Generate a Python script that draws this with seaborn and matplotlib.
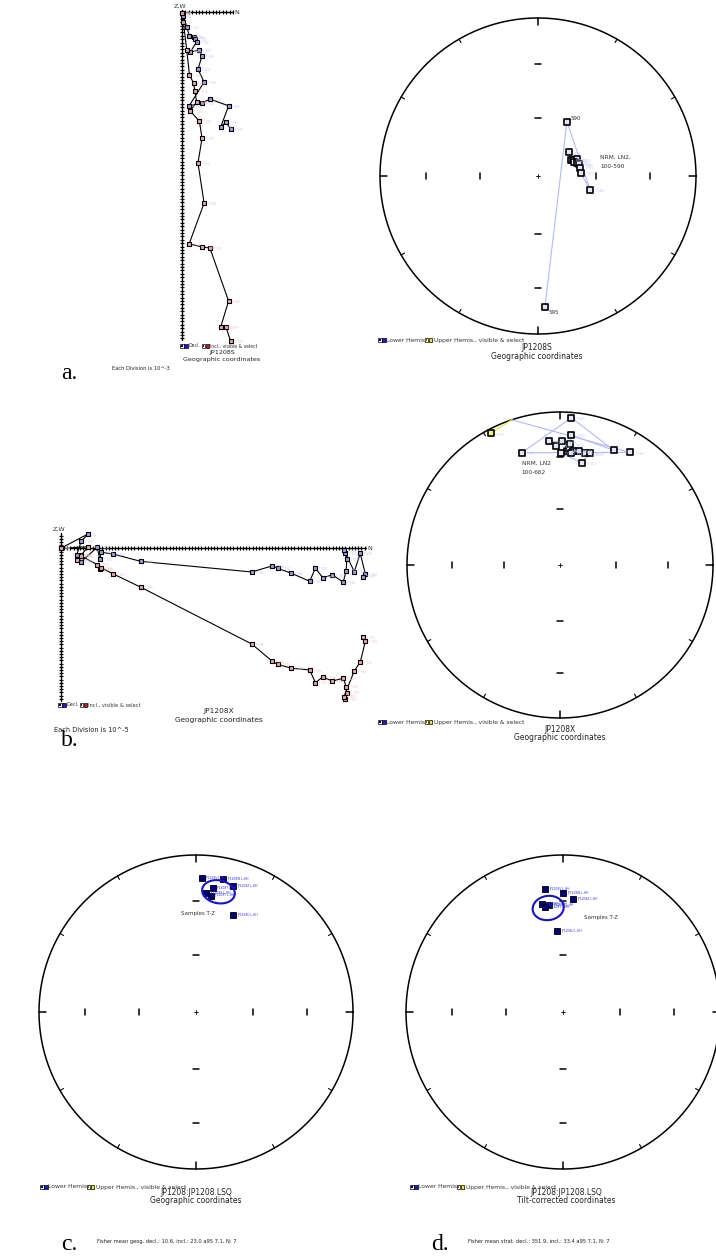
import numpy as np
import matplotlib
matplotlib.use("Agg")
import matplotlib.pyplot as plt
from matplotlib.patches import Rectangle
import seaborn as sns

# ---------------- data ----------------
# JP1208S orthogonal projection, in divisions (1 division = 1e-3)
a_steps = ["NRM", "LN2", "T 100", "T 150", "T 200", "T 250", "T 300", "T 350", "T 400", "T 430",
           "T 460", "T 490", "T 510", "T 530", "T 550", "T 565", "T 580", "T 590", "T 595"]
a_north = [0.1, 0.4, 1.4, 2.2, 3.4, 3.8, 4.3, 2.4, 5.1, 5.9, 4.7, 6.5, 2.1, 5.9, 8.2, 13.7, 11.4, 12.9, 14.3]
a_west_down = [0.3, 1.2, 4.4, 7.1, 7.4, 7.9, 8.8, 11.8, 11.2, 12.9, 16.8, 20.6, 27.6, 26.8, 25.6, 27.6, 33.8, 32.4, 34.4]
a_z_down = [0.3, 2.9, 11.2, 18.5, 20.9, 23.2, 26.5, 29.1, 32.1, 37.1, 44.4, 56.2, 68.2, 69.1, 69.4, 85.0, 92.6, 92.6, 96.8]

# JP1208S equal-area directions
a_net_steps = ["NRM", "LN2", "T 100", "T 200", "T 300", "T 400", "T 460", "T 510", "T 550", "T 580", "590", "595"]
a_net_dec = [52, 64, 65, 67, 69, 72, 74, 79, 86, 105, 28, 177]
a_net_inc = [70, 71, 70, 68, 70, 69, 68, 68, 68, 62, 58, 18]

# JP1208X orthogonal projection, in divisions (1 division = 1e-5)
b_steps = ["NRM", "LN2", "T 100", "T 150", "T 200", "T 250", "T 300", "T 350", "T 400", "T 450",
           "T 500", "T 530", "T 560", "T 580", "T 600", "T 610", "T 620", "T 630", "T 640", "T 645",
           "T 650", "T 655", "T 660", "T 662", "T 665", "T 668", "T 670"]
b_north = [0, 8.6, 6.4, 5.0, 6.4, 11.4, 12.2, 12.7, 16.4, 25.1, 59.7, 66.1, 67.8, 72.1, 77.8, 79.6,
           81.9, 84.9, 88.3, 89.2, 89.4, 88.9, 88.5, 91.75, 93.6, 95.2, 94.6]
b_west_down = [0, -4.5, -2.2, 2.1, 4.2, -0.3, 3.4, 1.25, 1.8, 4.1, 7.4, 5.5, 6.25, 7.8, 10.3, 6.2,
               9.2, 8.3, 10.6, 7.0, 3.4, 1.6, 0.5, 7.3, 1.6, 8.0, 8.9]
b_z_down = [0, -0.5, 2.1, 3.7, 2.4, 5.1, 6.6, 6.1, 8.0, 12.2, 29.9, 35.3, 36.25, 37.5, 38.0, 42.0,
            40.2, 41.5, 40.6, 43.25, 45.1, 47.2, 46.4, 38.3, 35.6, 29.1, 27.8]

# JP1208X equal-area directions (negative inclination = upper hemisphere)
b_net_steps = ["NRM", "LN2", "T 100", "T 150", "T 200", "T 250", "T 300", "T 350", "T 400", "T 450",
               "T 500", "T 530", "T 560", "T 580", "T 600", "T 620", "T 640", "T 662", "T 670"]
b_net_dec = [3.4, 4.6, 6.6, 5.5, 9.3, 12.6, 15.0, 12.0, 0.4, 358.1, 355.1, 0.9, 4.7, 5.0, 25.2, 4.4, 341.2, 32.0, 332.2]
b_net_inc = [26.1, 25.1, 25.7, 27.5, 25.3, 26.1, 25.4, 32.2, 27.5, 23.2, 20.0, 20.3, 21.9, 15.8, 18.3, 3.9, 23.5, 14.3, -3.1]

# Site JP1208 sample means (T-Z)
site_samples = ["JP1208V L-HH", "JP1208W L-HH", "JP1208Z L-HH", "JP1208T L-HH",
                "JP1208X L-HH", "JP1208Y L-HH", "JP1208U L-HH"]
geo_dec = [2.4, 11.6, 16.5, 7.7, 4.8, 7.2, 21.0]
geo_inc = [15.9, 14.6, 17.4, 21.6, 25.1, 26.3, 34.2]
strat_dec = [351.7, 0.0, 5.1, 352.5, 349.0, 350.3, 355.8]
strat_inc = [21.9, 25.2, 28.6, 31.8, 30.6, 32.7, 47.1]
geo_mean = (10.6, 23.0, 7.1, 7)
strat_mean = (351.9, 33.4, 7.1, 7)

# ---------------- figure helpers ----------------
sns.set_theme(style="white")
plt.rcParams["font.family"] = ["DejaVu Sans"]

W, H = 716, 1257
fig = plt.figure(figsize=(W / 100, H / 100), dpi=100)
fig.patch.set_facecolor("white")

DEC_FACE = "#9c9cdc"
INC_FACE = "#e8a6a6"
NET_LINE = "#b4b8ff"
TXT = "#222222"


def px_axes(x0, y0, w, h):
    ax = fig.add_axes([x0 / W, 1 - (y0 + h) / H, w / W, h / H])
    ax.set_axis_off()
    return ax


def ftext(x, y, s, size=4.5, ha="left", va="center", color=TXT, **kw):
    fig.text(x / W, 1 - y / H, s, fontsize=size, ha=ha, va=va, color=color, **kw)


def fsquare(x, y, side, face, edge="black", lw=0.5):
    fig.add_artist(Rectangle((x / W, 1 - (y + side / 2) / H), side / W, side / H,
                             transform=fig.transFigure, facecolor=face,
                             edgecolor=edge, linewidth=lw))


def icon_pair(x, y, inner, fill, side=3.6):
    fsquare(x, y, side, "white")
    fsquare(x + 1.0, y, side - 2.0, inner, edge=inner, lw=0)
    fsquare(x + side + 0.6, y, side, fill)


def zij_legend(x, y, size):
    icon_pair(x, y, "#000060", "#1a1ad0")
    ftext(x + 8.5, y, "Decl.", size=size, color="#333333")
    icon_pair(x + 21.5, y, "#600000", "#d01a1a")
    ftext(x + 30, y, "Incl., visible & select", size=size, color="#333333")


def hemis_legend(x, y, size=4.3):
    icon_pair(x, y, "#000060", "#1a1ad0")
    ftext(x + 8.5, y, "Lower Hemis", size=size, color="#333333")
    icon_pair(x + 46.5, y, "#707000", "#e8e830")
    ftext(x + 56, y, "Upper Hemis., visible & select", size=size, color="#333333")


def orthogonal_plot(box, origin, div, north, west_down, z_down, steps, h_len, v_up, v_len):
    x0, y0, w, h = box
    ox, oy = origin
    ax = px_axes(x0, y0, w, h)
    ax.plot([0, h_len], [0, 0], color="black", lw=1.0, zorder=1)
    ax.plot([0, 0], [v_up, -v_len], color="black", lw=1.0, zorder=1)
    tk = 0.65
    ax.vlines(np.arange(1, int(h_len) + 1), -tk, tk, color="black", lw=0.85, zorder=1)
    ax.hlines(np.arange(-int(v_len), int(v_up) + 1), -tk, tk, color="black", lw=0.85, zorder=1)
    n = np.asarray(north, float)
    wd = -np.asarray(west_down, float)
    zd = -np.asarray(z_down, float)
    ax.plot(n, wd, color="black", lw=0.8, zorder=2)
    ax.plot(n, zd, color="black", lw=0.8, zorder=2)
    sns.scatterplot(x=n, y=wd, marker="s", s=11, color=DEC_FACE, edgecolor="black",
                    linewidth=0.8, ax=ax, zorder=3, legend=False)
    sns.scatterplot(x=n, y=zd, marker="s", s=11, color=INC_FACE, edgecolor="black",
                    linewidth=0.8, ax=ax, zorder=3, legend=False)
    for xi, yi, yj, s in zip(n, wd, zd, steps):
        ax.annotate(s, (xi, yi), xytext=(2.8, -0.5), textcoords="offset points",
                    fontsize=2.0, color="#c4c4ee", va="center")
        ax.annotate(s, (xi, yj), xytext=(2.8, -0.5), textcoords="offset points",
                    fontsize=2.0, color="#f0c0c0", va="center")
    ax.set_xlim((x0 - ox) / div, (x0 + w - ox) / div)
    ax.set_ylim(-(y0 + h - oy) / div, (oy - y0) / div)
    ax.text(-0.6, v_up + 0.4, "Z,W", fontsize=4.6, ha="center", va="bottom", color="#333333")
    ax.text(h_len + 0.4, 0, "N", fontsize=4.6, ha="left", va="center", color="#333333")
    return ax


def to_xy(dec, inc):
    d = np.radians(np.asarray(dec, float))
    i = np.radians(np.abs(np.asarray(inc, float)))
    r = np.sqrt(2) * np.sin((np.pi / 2 - i) / 2)
    return r * np.sin(d), r * np.cos(d)


def to_vec(dec, inc):
    d, i = np.radians(dec), np.radians(inc)
    return np.array([np.cos(i) * np.cos(d), np.cos(i) * np.sin(d), np.sin(i)])


def from_vec(v):
    v = v / np.linalg.norm(v)
    return np.degrees(np.arctan2(v[1], v[0])), np.degrees(np.arcsin(v[2]))


def net(center, R):
    cx, cy = center
    pad = 1.12
    ax = px_axes(cx - R * pad, cy - R * pad, 2 * R * pad, 2 * R * pad)
    t = np.linspace(0, 2 * np.pi, 721)
    ax.plot(np.cos(t), np.sin(t), color="black", lw=1.1)
    for az in range(0, 360, 30):
        a = np.radians(az)
        major = az % 90 == 0
        r0, r1 = (0.955, 1.0) if major else (0.975, 1.0)
        ax.plot([r0 * np.sin(a), r1 * np.sin(a)], [r0 * np.cos(a), r1 * np.cos(a)],
                color="black", lw=1.1 if major else 0.8)
    rr = to_xy([0, 0], [60, 30])[1]
    d = 0.021
    for r in rr:
        for sg in (1, -1):
            ax.plot([-d, d], [sg * r, sg * r], color="black", lw=1.1)
            ax.plot([sg * r, sg * r], [-d, d], color="black", lw=1.1)
    c = 0.012
    ax.plot([-c, c], [0, 0], color="black", lw=0.6)
    ax.plot([0, 0], [-c, c], color="black", lw=0.6)
    ax.set_xlim(-pad, pad)
    ax.set_ylim(-pad, pad)
    return ax


def demag_path(ax, dec, inc):
    for k in range(len(dec) - 1):
        d0, i0, d1, i1 = dec[k], inc[k], dec[k + 1], inc[k + 1]
        if (i0 >= 0) == (i1 >= 0):
            x, y = to_xy([d0, d1], [i0, i1])
            ax.plot(x, y, color=NET_LINE if i0 >= 0 else "#e6e640", lw=0.8, zorder=2)
        else:
            v0, v1 = to_vec(d0, i0), to_vec(d1, i1)
            t = v0[2] / (v0[2] - v1[2])
            de, ie = from_vec(v0 + t * (v1 - v0))
            x, y = to_xy([d0, de], [i0, 0])
            ax.plot(x, y, color=NET_LINE if i0 >= 0 else "#e6e640", lw=0.8, zorder=2)
            x, y = to_xy([de, d1], [0, i1])
            ax.plot(x, y, color=NET_LINE if i1 >= 0 else "#e6e640", lw=0.8, zorder=2)


def net_points(ax, dec, inc, steps, dark=()):
    dec = np.asarray(dec, float)
    inc = np.asarray(inc, float)
    x, y = to_xy(dec, inc)
    lower = inc >= 0
    sns.scatterplot(x=x[lower], y=y[lower], marker="s", s=17, color="#e4e4fa",
                    edgecolor="black", linewidth=1.2, ax=ax, zorder=3, legend=False)
    if (~lower).any():
        sns.scatterplot(x=x[~lower], y=y[~lower], marker="s", s=17, color="#f4f470",
                        edgecolor="black", linewidth=1.2, ax=ax, zorder=3, legend=False)
    for xi, yi, s in zip(x, y, steps):
        if s in dark:
            continue
        ax.annotate(s, (xi, yi), xytext=(3.5, -1), textcoords="offset points",
                    fontsize=2.2, color="#c6c8f4", va="center")
    ax.set_xlim(-1.12, 1.12)
    ax.set_ylim(-1.12, 1.12)
    return x, y


def cone(dec, inc, a95):
    D, I, a = np.radians([dec, inc, a95])
    m = np.array([np.cos(I) * np.cos(D), np.cos(I) * np.sin(D), np.sin(I)])
    u = np.array([-np.sin(I) * np.cos(D), -np.sin(I) * np.sin(D), np.cos(I)])
    v = np.cross(m, u)
    phi = np.linspace(0, 2 * np.pi, 240)
    p = np.cos(a) * m[:, None] + np.sin(a) * (np.cos(phi) * u[:, None] + np.sin(phi) * v[:, None])
    return to_xy(np.degrees(np.arctan2(p[1], p[0])), np.degrees(np.arcsin(p[2])))


def site_net(center, R, dec, inc, mean):
    ax = net(center, R)
    x, y = to_xy(dec, inc)
    sns.scatterplot(x=x, y=y, marker="s", s=13, color="#00007a", edgecolor="black",
                    linewidth=0.6, ax=ax, zorder=3, legend=False)
    for xi, yi, s in zip(x, y, site_samples):
        ax.annotate(s, (xi, yi), xytext=(2.8, 0.2), textcoords="offset points",
                    fontsize=2.2, color="#3030ff", va="center")
    ex, ey = cone(mean[0], mean[1], mean[2])
    ax.plot(ex, ey, color="#1414c8", lw=1.5, zorder=4)
    ax.set_xlim(-1.12, 1.12)
    ax.set_ylim(-1.12, 1.12)
    return ax


# ---------------- a. JP1208S ----------------
orthogonal_plot((140, 0, 150, 345), (182, 12), 3.4, a_north, a_west_down, a_z_down, a_steps,
                h_len=15, v_up=0.6, v_len=96.6)
zij_legend(180, 346, 3.3)
ftext(222, 352.5, "JP1208S", size=4.6, ha="center")
ftext(222, 359.5, "Geographic coordinates", size=4.6, ha="center")
ftext(112, 369, "Each Division is 10^-3", size=3.7)
ftext(61, 373, "a.", size=17, family="Liberation Serif", color="black")

ax_a = net((538, 176), 158)
demag_path(ax_a, a_net_dec, a_net_inc)
xa, ya = net_points(ax_a, a_net_dec, a_net_inc, a_net_steps, dark=("590", "595"))
ax_a.annotate("590", (xa[10], ya[10]), xytext=(2.5, 2.5), textcoords="offset points",
              fontsize=4.0, color="#333333", va="center")
ax_a.annotate("595", (xa[11], ya[11]), xytext=(2.5, -3.5), textcoords="offset points",
              fontsize=4.0, color="#333333", va="center")
ftext(600, 157.5, "NRM, LN2,", size=4.2, color="#333333")
ftext(600, 166, "100-590", size=4.2, color="#333333")
hemis_legend(378, 340)
ftext(537, 348, "JP1208S", size=5.5, ha="center")
ftext(537, 356.5, "Geographic coordinates", size=5.5, ha="center")

# ---------------- b. JP1208X ----------------
orthogonal_plot((30, 515, 365, 190), (60.7, 548.3), 3.2, b_north, b_west_down, b_z_down, b_steps,
                h_len=95.4, v_up=4.8, v_len=47.6)
zij_legend(58, 705, 3.6)
ftext(219, 711.5, "JP1208X", size=5.3, ha="center")
ftext(219, 720, "Geographic coordinates", size=5.3, ha="center")
ftext(54, 729.5, "Each Division is 10^-5", size=4.8)
ftext(61, 740, "b.", size=17, family="Liberation Serif", color="black")

ax_b = net((560, 565), 153)
demag_path(ax_b, b_net_dec, b_net_inc)
net_points(ax_b, b_net_dec, b_net_inc, b_net_steps)
ftext(521.5, 463.5, "NRM, LN2", size=4.2, color="#333333")
ftext(521.5, 472, "100-662", size=4.2, color="#333333")
hemis_legend(378, 722)
ftext(560, 729, "JP1208X", size=5.5, ha="center")
ftext(560, 737.5, "Geographic coordinates", size=5.5, ha="center")

# ---------------- c. site mean, geographic ----------------
site_net((196, 1012), 157, geo_dec, geo_inc, geo_mean)
ftext(181, 913, "Samples T-Z", size=4.0, color="#333333")
hemis_legend(40, 1187)
ftext(196, 1192.5, "JP1208:JP1208.LSQ", size=5.5, ha="center")
ftext(196, 1200.5, "Geographic coordinates", size=5.5, ha="center")
ftext(61, 1244, "c.", size=17, family="Liberation Serif", color="black")
ftext(97, 1241, "Fisher mean geog. decl.: %.1f, incl.: %.1f a95 %.1f, N: %d" % geo_mean, size=3.7)

# ---------------- d. site mean, tilt-corrected ----------------
site_net((563, 1012), 157, strat_dec, strat_inc, strat_mean)
ftext(584, 918, "Samples T-Z", size=4.0, color="#333333")
hemis_legend(410, 1187)
ftext(566, 1192.5, "JP1208:JP1208.LSQ", size=5.5, ha="center")
ftext(566, 1200.5, "Tilt-corrected coordinates", size=5.5, ha="center")
ftext(431, 1244, "d.", size=17, family="Liberation Serif", color="black")
ftext(468, 1241, "Fisher mean strat. decl.: %.1f, incl.: %.1f a95 %.1f, N: %d" % strat_mean, size=3.7)

fig.savefig("out.png", dpi=100, facecolor="white")
